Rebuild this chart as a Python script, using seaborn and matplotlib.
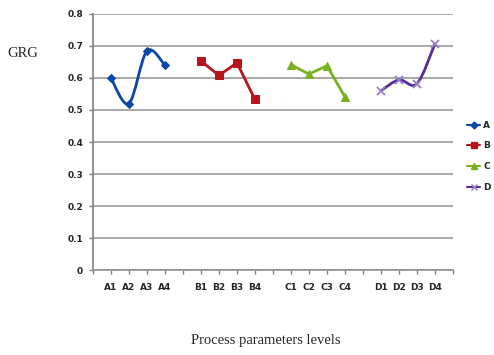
import numpy as np
import pandas as pd
import matplotlib
matplotlib.use("Agg")
import matplotlib.pyplot as plt
from matplotlib.path import Path
from matplotlib.patches import PathPatch
from matplotlib.lines import Line2D
import seaborn as sns

# DATA
tick_labels = ["", "A1", "A2", "A3", "A4", "", "B1", "B2", "B3", "B4", "",
               "C1", "C2", "C3", "C4", "", "D1", "D2", "D3", "D4", ""]
pos_a = [1, 2, 3, 4]
pos_b = [6, 7, 8, 9]
pos_c = [11, 12, 13, 14]
pos_d = [16, 17, 18, 19]
grg_a = [0.600, 0.520, 0.684, 0.640]
grg_b = [0.653, 0.608, 0.647, 0.533]
grg_c = [0.641, 0.612, 0.638, 0.541]
grg_d = [0.560, 0.594, 0.582, 0.707]

colors = {"A": "#0B47A8", "B": "#B8141C", "C": "#79B020", "D": "#5A2C9A"}
d_marker = "#9580C6"


def smooth_path(xs, ys):
    # excel-style smoothed line (bezier through the points)
    x = np.array(xs, float)
    y = np.array(ys, float)
    n = len(x)
    verts = [(x[0], y[0])]
    codes = [Path.MOVETO]
    for i in range(n - 1):
        i0 = max(i - 1, 0)
        i3 = min(i + 2, n - 1)
        c1 = (x[i] + (x[i + 1] - x[i0]) / 6, y[i] + (y[i + 1] - y[i0]) / 6)
        c2 = (x[i + 1] - (x[i3] - x[i]) / 6, y[i + 1] - (y[i3] - y[i]) / 6)
        verts += [c1, c2, (x[i + 1], y[i + 1])]
        codes += [Path.CURVE4] * 3
    return Path(verts, codes)


sns.set_style("white")
plt.rcParams["font.family"] = ["DejaVu Sans"]

fig = plt.figure(figsize=(4.94, 3.55), dpi=100)
ax = fig.add_axes([0.188, 0.239, 0.729, 0.722])

# A - smoothed
ax.add_patch(PathPatch(smooth_path(pos_a, grg_a), fill=False,
                       edgecolor=colors["A"], lw=2))
sns.lineplot(x=pos_a, y=grg_a, ax=ax, color=colors["A"], marker="D",
             markersize=4.5, markeredgecolor=colors["A"], linestyle="")
# B
sns.lineplot(x=pos_b, y=grg_b, ax=ax, color=colors["B"], marker="s",
             markersize=6, markeredgecolor=colors["B"], lw=2)
# C
sns.lineplot(x=pos_c, y=grg_c, ax=ax, color=colors["C"], marker="^",
             markersize=6, markeredgecolor=colors["C"], lw=2)
# D - smoothed
ax.add_patch(PathPatch(smooth_path(pos_d, grg_d), fill=False,
                       edgecolor=colors["D"], lw=2))
sns.lineplot(x=pos_d, y=grg_d, ax=ax, color=d_marker, marker="x",
             markersize=6, markeredgewidth=1.3, markeredgecolor=d_marker,
             linestyle="")

ax.set_xlim(0, 20)
ax.set_ylim(0, 0.8)
ax.set_yticks(np.arange(0, 0.81, 0.1))
ax.set_yticklabels(["0", "0.1", "0.2", "0.3", "0.4", "0.5", "0.6", "0.7", "0.8"])
ax.set_xticks(range(len(tick_labels)))
ax.set_xticklabels(tick_labels)
ax.tick_params(axis="both", labelsize=6.5, length=3, width=1, color="#808080",
               direction="out", pad=4)
for lbl in ax.get_xticklabels() + ax.get_yticklabels():
    lbl.set_fontweight("bold")
ax.tick_params(axis="x", pad=6)
ax.tick_params(bottom=True, left=True)

ax.yaxis.grid(True, color="#A8A8A8", lw=1.4)
ax.xaxis.grid(False)
ax.set_axisbelow(True)
for s in ["top", "right"]:
    ax.spines[s].set_visible(False)
ax.spines["left"].set_color("#808080")
ax.spines["bottom"].set_color("#909090")
ax.spines["left"].set_linewidth(1.2)
ax.spines["bottom"].set_linewidth(1.2)

# legend
handles = [Line2D([], [], color=colors["A"], marker="D", markersize=3.5, lw=1.5),
           Line2D([], [], color=colors["B"], marker="s", markersize=4.5, lw=1.5),
           Line2D([], [], color=colors["C"], marker="^", markersize=4.5, lw=1.5),
           Line2D([], [], color=colors["D"], marker="x", markersize=4,
                  markeredgecolor=d_marker, lw=1.5)]
ax.legend(handles, ["A", "B", "C", "D"], loc="upper left",
          bbox_to_anchor=(0.945, 0.66), bbox_transform=fig.transFigure,
          frameon=False, handlelength=1.5, handletextpad=0.3,
          labelspacing=1.3, borderaxespad=0, borderpad=0,
          prop={"weight": "bold", "size": 6.5})

fig.text(0.015, 0.84, "GRG", family="Liberation Serif", fontsize=10.5)
fig.text(0.537, 0.03, "Process parameters levels", family="Liberation Serif",
         fontsize=10.5, ha="center")

fig.savefig("out.png", dpi=100)
